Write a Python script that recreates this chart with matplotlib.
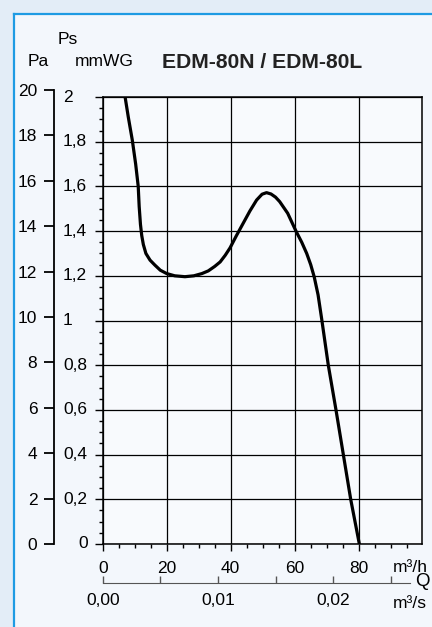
import matplotlib.pyplot as plt
from matplotlib.patches import Rectangle
from matplotlib.lines import Line2D
from matplotlib.ticker import MultipleLocator, FixedLocator, NullFormatter
import matplotlib.transforms as mtransforms

plt.rcParams['font.family'] = ['Liberation Sans', 'DejaVu Sans']

# --- data: fan curve EDM-80N / EDM-80L ---
flow_m3h = [7.0, 8.0, 9.25, 10.3, 11.1, 11.4, 11.8, 12.2, 12.7, 13.5, 14.8, 16.3,
            18.0, 20.0, 22.5, 25.7, 28.5, 31.0, 33.0, 35.0, 36.7, 38.3, 39.8, 41.8,
            43.9, 46.0, 48.1, 49.8, 51.2, 52.6, 54.0, 55.3, 57.8, 60.4, 62.2, 63.75,
            65.0, 66.1, 67.3, 68.4, 70.5, 72.9, 75.2, 77.5, 80.2]
pressure_mmwg = [2.0, 1.91, 1.807, 1.70, 1.60, 1.51, 1.43, 1.38, 1.34, 1.30, 1.27, 1.248,
                 1.225, 1.21, 1.20, 1.196, 1.20, 1.21, 1.222, 1.242, 1.262, 1.292, 1.325, 1.38,
                 1.435, 1.49, 1.539, 1.565, 1.572, 1.566, 1.552, 1.532, 1.48, 1.40, 1.35, 1.30,
                 1.25, 1.195, 1.115, 1.01, 0.8, 0.6, 0.4, 0.2, 0.0]

mmwg_ticks = [0, 0.2, 0.4, 0.6, 0.8, 1, 1.2, 1.4, 1.6, 1.8, 2]
mmwg_labels = ['0', '0,2', '0,4', '0,6', '0,8', '1', '1,2', '1,4', '1,6', '1,8', '2']
pa_ticks = [0, 2, 4, 6, 8, 10, 12, 14, 16, 18, 20]
flow_ticks = [0, 20, 40, 60, 80]
flow_s_ticks = [0, 0.01, 0.02]
flow_s_labels = ['0,00', '0,01', '0,02']

FS = 12.5
W, H = 432, 627
fig = plt.figure(figsize=(W / 100, H / 100), dpi=100)
fig.patch.set_facecolor('#e3edf7')

def fx(px):
    return px / W

def fy(py):
    return 1 - py / H

# inner panel with blue frame
fig.patches.append(Rectangle((fx(14), 0), 1, fy(14), transform=fig.transFigure,
                             facecolor='#f3f7fc', edgecolor='none', zorder=-5))
fig.add_artist(Line2D([fx(14), 1], [fy(14), fy(14)], color='#1e9be3', lw=1.6))
fig.add_artist(Line2D([fx(14), fx(14)], [0, fy(14)], color='#1e9be3', lw=1.6))

# --- main axes ---
x0, x1, ytop, ybot = 102.7, 421.7, 97, 544
ax = fig.add_axes([fx(x0), fy(ybot), (x1 - x0) / W, (ybot - ytop) / H])
ax.set_facecolor('#f8fafd')
ax.set_xlim(0, (x1 - x0) / 3.2)
ax.set_ylim(0, 2)
ax.plot(flow_m3h, pressure_mmwg, color='black', lw=2.3, solid_capstyle='round',
        solid_joinstyle='round', zorder=3)

ax.xaxis.set_major_locator(FixedLocator(flow_ticks))
ax.xaxis.set_minor_locator(MultipleLocator(5))
ax.set_xticklabels([str(t) for t in flow_ticks])
ax.yaxis.set_major_locator(FixedLocator(mmwg_ticks))
ax.yaxis.set_minor_locator(MultipleLocator(0.05))
ax.yaxis.set_major_formatter(NullFormatter())
ax.grid(True, which='major', color='black', lw=0.9)
for s in ax.spines.values():
    s.set_linewidth(1.1)
ax.tick_params(axis='y', which='major', direction='out', length=6, width=1)
ax.tick_params(axis='y', which='minor', direction='out', length=3, width=1)
ax.tick_params(axis='x', which='major', direction='out', length=5, width=1,
               pad=7, labelsize=FS, colors='black')
ax.tick_params(axis='x', which='minor', direction='out', length=3, width=1)

# mmWG labels placed by hand (left aligned, the zero sits right)
tr = mtransforms.blended_transform_factory(fig.transFigure, ax.transData)
for v, lab in zip(mmwg_ticks, mmwg_labels):
    if lab == '0':
        ax.text(fx(88), v, lab, transform=tr, ha='right', va='center', fontsize=FS)
    else:
        ax.text(fx(63), v, lab, transform=tr, ha='left', va='center', fontsize=FS)

# --- Pa axis ---
axp = fig.add_axes([fx(54), fy(544), 0.001, (544 - 90) / H])
axp.patch.set_visible(False)
axp.set_ylim(0, 20)
axp.set_yticks(pa_ticks)
axp.set_xticks([])
for side in ['top', 'right', 'bottom']:
    axp.spines[side].set_visible(False)
axp.spines['left'].set_linewidth(1.3)
axp.tick_params(axis='y', direction='out', length=7, width=1.3, pad=5, labelsize=FS)

# --- m3/s axis ---
axs = fig.add_axes([fx(x0), fy(583), (x1 - x0) / W, 0.0001])
axs.patch.set_visible(False)
axs.set_xlim(0, (x1 - x0) / 3.2 / 3600)
axs.set_yticks([])
for side in ['top', 'right', 'left']:
    axs.spines[side].set_visible(False)
axs.spines['bottom'].set_color('#555555')
axs.spines['bottom'].set_bounds(0, 96 / 3600)
axs.xaxis.set_major_locator(FixedLocator(flow_s_ticks))
axs.set_xticklabels(flow_s_labels)
axs.xaxis.set_minor_locator(FixedLocator([0.005, 0.015, 0.025]))
axs.tick_params(axis='x', which='both', direction='in', length=5, width=1,
                color='#555555', pad=7, labelsize=FS)

# --- texts ---
fig.text(fx(28), fy(62), 'Pa', fontsize=FS, va='center', ha='left')
fig.text(fx(58), fy(40), 'Ps', fontsize=FS, va='center', ha='left')
fig.text(fx(75), fy(62), 'mmWG', fontsize=FS, va='center', ha='left')
fig.text(fx(162), fy(62), 'EDM-80N / EDM-80L', fontsize=15.2, fontweight='bold',
         va='center', ha='left', color='#222222')
fig.text(fx(393), fy(567), 'm³/h', fontsize=FS, va='center', ha='left')
fig.text(fx(415), fy(582), 'Q', fontsize=FS + 1, va='center', ha='left')
fig.text(fx(393), fy(604), 'm³/s', fontsize=FS, va='center', ha='left')

fig.savefig('out.png', dpi=100, facecolor=fig.get_facecolor())
